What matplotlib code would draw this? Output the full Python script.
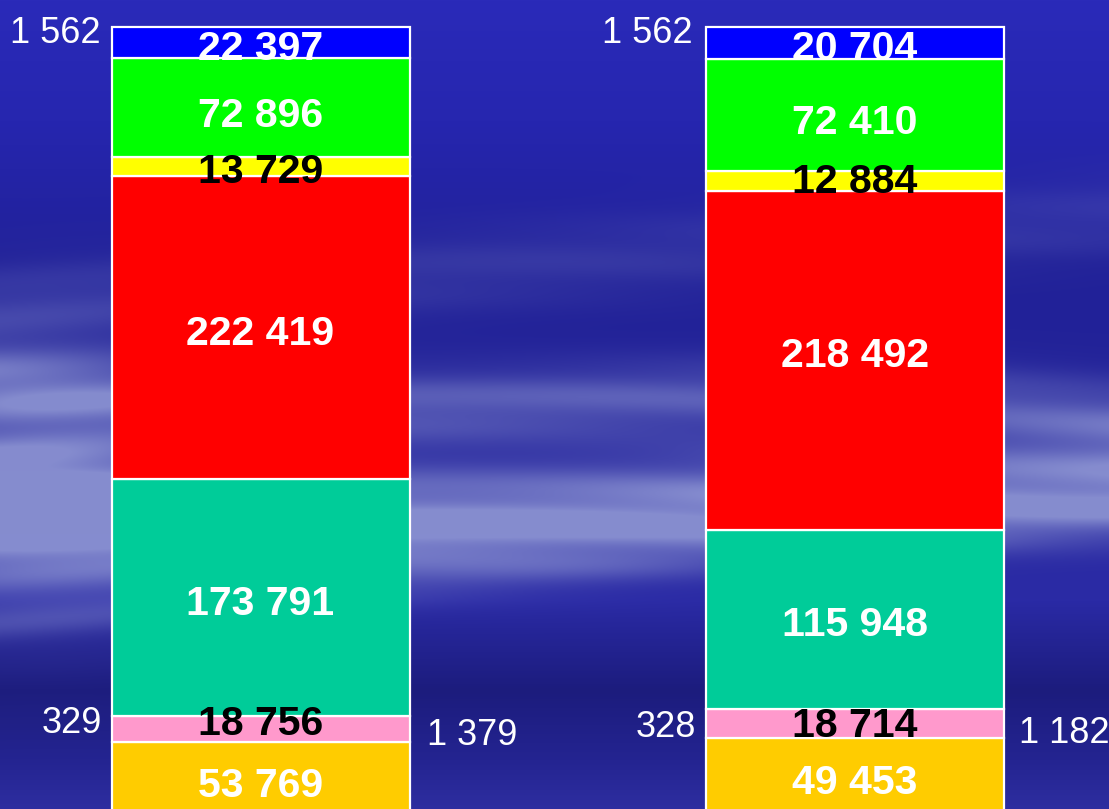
import numpy as np
import matplotlib
matplotlib.use("Agg")
import matplotlib.pyplot as plt
from matplotlib.transforms import ScaledTranslation
from matplotlib.patches import Rectangle

# ---- data (segments listed bottom to top) ----
bar_positions = [0, 1]
segment_colors = ["#FFCC00", "#FF99CC", "#00CC99", "#FF0000", "#FFFF00", "#00FF00", "#0000FF"]
label_colors = ["white", "black", "white", "white", "black", "white", "white"]
values_left = [53769, 18756, 173791, 222419, 13729, 72896, 22397]
values_right = [49453, 18714, 115948, 218492, 12884, 72410, 20704]
top_notes = [1562, 1562]
left_notes = [329, 328]
right_notes = [1379, 1182]

# ---- presentation settings ----
W, H = 1109, 809
PX_X0, PX_PER_X = 260.5, 594.5      # pixel of bar 0 centre, pixels per bar step
PX_Y0, PX_PER_Y = 815.0, 7.88       # pixel of 0 %, pixels per percent
BAR_W = 298 / PX_PER_X
label_shift_px = [[4, -9, 3, 3, 2, 5, 3], [3, -2, 2, -8, -3, 4, 2]]
label_clip = [[False, False, False, False, True, False, True],
              [False, False, False, False, False, False, True]]
LABEL_FONT = ["Liberation Sans", "DejaVu Sans"]
LABEL_SIZE = 29.5
NOTE_FONT = ["Liberation Sans", "DejaVu Sans"]


def fmt(v):
    return f"{v:,}".replace(",", " ")


def dx(px):
    return (px - PX_X0) / PX_PER_X


def dy(py):
    return (PX_Y0 - py) / PX_PER_Y


fig = plt.figure(figsize=(W / 100, H / 100), dpi=100)

# ---- sky background ----
bg = fig.add_axes([0, 0, 1, 1])
bg.axis("off")
yy, xx = np.mgrid[0:H, 0:W].astype(float)
ys = [0, 120, 260, 340, 600, 690, 760, 809]
r = np.interp(yy, ys, [42, 38, 32, 34, 42, 28, 36, 46])
g = np.interp(yy, ys, [42, 38, 32, 34, 42, 28, 36, 46])
b = np.interp(yy, ys, [185, 175, 152, 152, 165, 125, 145, 160])


def band(center, sigma, amp):
    return amp * np.exp(-((yy - center) / sigma) ** 2)


# left margin carries a broad cloud bank, the middle a narrower bright streak
left_weight = np.exp(-((xx - 40) / 160.0) ** 2)
cloud = (band(495 + 20 * np.sin(xx / 260.0), 48, 0.95)
         + band(400 + 0.03 * (xx - 500) + 12 * np.sin(xx / 180.0), 34, 0.60)
         + band(560 - 0.05 * xx, 30, 0.45)
         + band(470, 120, 0.55) * left_weight
         + band(275 - 0.08 * (xx - 400), 40, 0.22)
         + band(620 - 0.09 * xx, 20, 0.25))
cloud *= 0.86 + 0.14 * np.sin(yy / 7.0 + 2.5 * np.sin(xx / 260.0))
cloud *= 0.9 + 0.1 * np.cos(xx / 300.0)
cloud = np.clip(cloud, 0, 0.85)
cr, cg, cb = 150, 158, 215
img = np.dstack([r * (1 - cloud) + cr * cloud,
                 g * (1 - cloud) + cg * cloud,
                 b * (1 - cloud) + cb * cloud]) / 255.0
bg.imshow(np.clip(img, 0, 1), extent=(0, W, H, 0), aspect="auto", interpolation="bilinear")
bg.set_xlim(0, W)
bg.set_ylim(H, 0)

# ---- stacked 100 % bars ----
ax = fig.add_axes([0, 0, 1, 1])
ax.patch.set_alpha(0)
ax.axis("off")
ax.set_xlim(dx(0), dx(W))
ax.set_ylim(dy(H), dy(0))

cap_px = 0.716 * LABEL_SIZE * 100 / 72
for bi, (xpos, vals) in enumerate(zip(bar_positions, [values_left, values_right])):
    total = float(sum(vals))
    bottom = 0.0
    for si, v in enumerate(vals):
        pct = 100.0 * v / total
        ax.bar(xpos, pct, bottom=bottom, width=BAR_W, color=segment_colors[si],
               edgecolor="white", linewidth=1.6, zorder=2)
        mid = bottom + pct / 2
        shift_in = -(cap_px / 2 + label_shift_px[bi][si]) / 100.0
        tr = ax.transData + ScaledTranslation(0, shift_in, fig.dpi_scale_trans)
        t = ax.text(xpos, mid, fmt(v), transform=tr, ha="center", va="baseline",
                    fontsize=LABEL_SIZE, fontweight="bold", color=label_colors[si],
                    family=LABEL_FONT, zorder=3)
        if label_clip[bi][si]:
            inset = 1.2 / PX_PER_Y
            clip = Rectangle((xpos - BAR_W / 2, bottom + inset), BAR_W, pct - 2 * inset,
                             transform=ax.transData, visible=False)
            ax.add_patch(clip)
            t.set_clip_path(clip)
        bottom += pct

    left_edge = xpos - BAR_W / 2
    right_edge = xpos + BAR_W / 2
    note_kw = dict(fontsize=26, color="white", family=NOTE_FONT, va="baseline", zorder=4)
    ax.text(left_edge - [11, 13][bi] / PX_PER_X, dy(43), fmt(top_notes[bi]), ha="right", **note_kw)
    ax.text(left_edge - [9, 10][bi] / PX_PER_X, dy([733, 737][bi]), fmt(left_notes[bi]),
            ha="right", **note_kw)
    ax.text(right_edge + [17, 15][bi] / PX_PER_X, dy([745, 743][bi]), fmt(right_notes[bi]),
            ha="left", **note_kw)

fig.savefig("out.png", dpi=100)
